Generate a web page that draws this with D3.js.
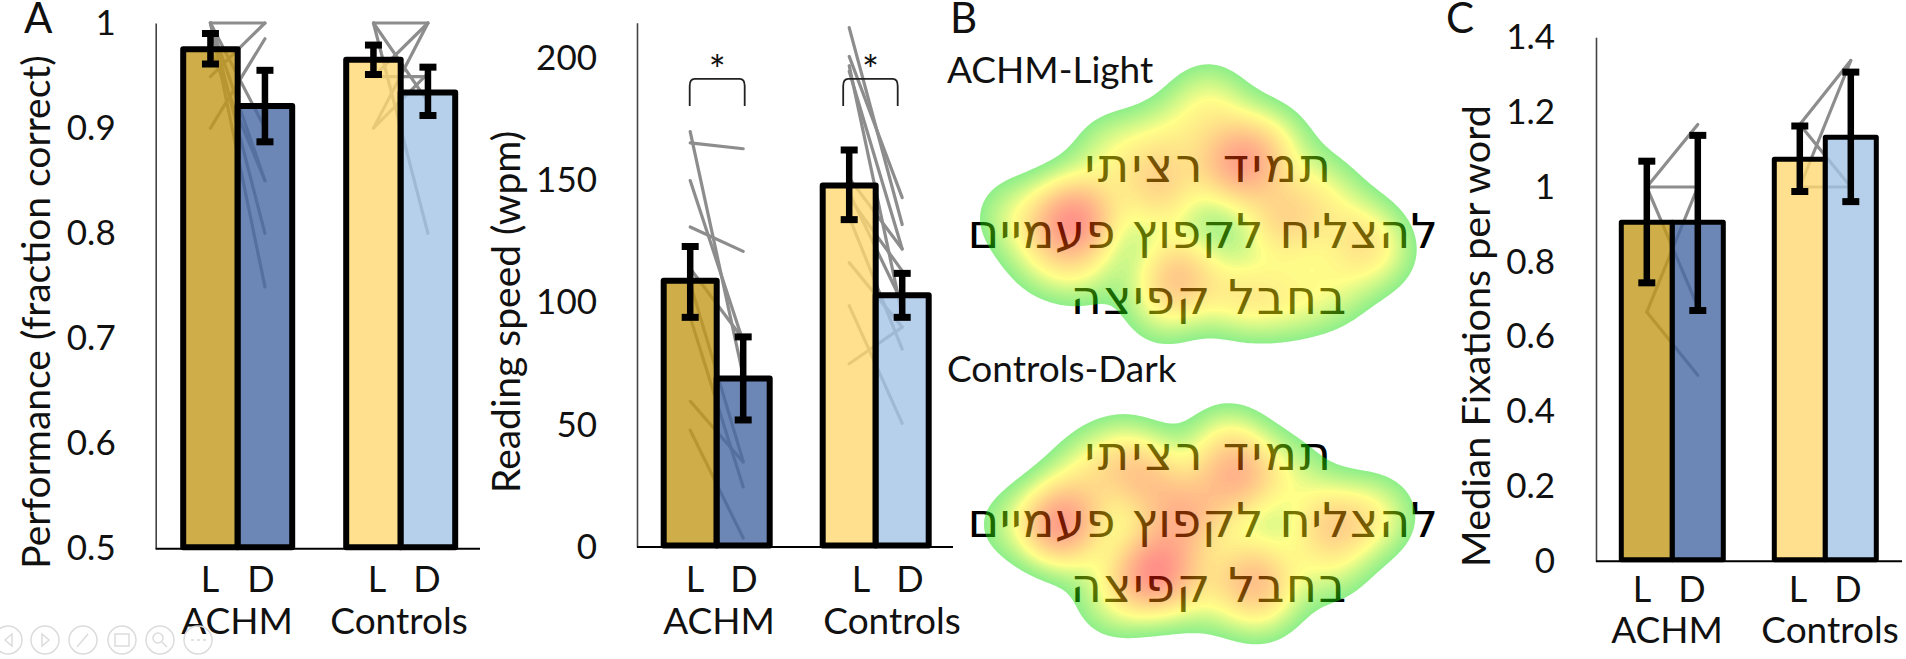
<!DOCTYPE html>
<html>
<head>
<meta charset="utf-8">
<script src="https://cdn.jsdelivr.net/npm/d3@7"></script>
<style>
html,body{margin:0;padding:0;background:#fff;overflow:hidden}
svg{display:block}
text{font-family:Lato,"Open Sans",sans-serif;fill:#111}
</style>
</head>
<body>
<svg id="chart" width="1906" height="659"></svg>
<script>
// ---------- data ----------
const groups = ["ACHM", "Controls"];
const conditions = ["L", "D"];

const perfMeans = [[0.975, 0.921], [0.965, 0.934]];
const perfLow   = [[0.961, 0.887], [0.951, 0.912]];
const perfHigh  = [[0.990, 0.955], [0.979, 0.958]];
const perfTicks = [0.5, 0.6, 0.7, 0.8, 0.9, 1];
const perfAchmPairs = [[1,1],[1,0.85],[1,0.80],[1,0.749],[0.949,1],[0.90,0.985],[1,0.90],[0.975,0.85]];
const perfCtrlPairs = [[1,1],[1,0.925],[1,0.80],[0.90,1],[0.90,0.952],[0.949,1],[0.949,0.949]];

const speedMeans = [[109, 69], [148, 103]];
const speedLow   = [[94, 52], [134, 94]];
const speedHigh  = [[123, 86], [162.5, 112]];
const speedTicks = [0, 50, 100, 150, 200];
const speedAchmPairs = [[170,70],[165.4,163],[150,84],[131,121],[114,85],[108,35],[94,24.6],[59.7,34.8],[47.8,3.7]];
const speedCtrlPairs = [[212.6,132],[200.8,143],[194.7,122],[197,95],[151,122],[145,100],[143,113],[135,81],[116.4,90],[98.8,50.6],[75,90]];
const speedSignificance = [191.6, 180.5];

const fixMeans = [[0.906, 0.906], [1.074, 1.133]];
const fixLow   = [[0.744, 0.67], [0.988, 0.961]];
const fixHigh  = [[1.069, 1.138], [1.163, 1.307]];
const fixTicks = [0, 0.2, 0.4, 0.6, 0.8, 1, 1.2, 1.4];
const fixAchmPairs = [[1,1.167],[1,1],[1,0.68],[0.666,1],[0.666,0.497]];
const fixCtrlPairs = [[1.167,1.338],[1,1.338],[1.167,1],[1,1]];

const barColors = [["#C39A1D", "#4769A2"], ["#FFD872", "#A4C4E7"]];

const hebrewLines = ["תמיד רציתי", "להצליח לקפוץ פעמיים", "בחבל קפיצה"];

// heat-map fixation blobs: x, y, weight
const heatLight = [
  [1073,217,0.95],[1237,163,0.8],[1177,272,0.6],[1158,190,0.5],[1282,222,0.5],
  [1207,100,0.33],[1360,235,0.36],[1010,214,0.25],[1110,150,0.28],[1165,140,0.28],
  [1240,295,0.38],[1270,140,0.28],[1320,190,0.28],[1380,255,0.2],[1160,310,0.22],
  [1040,258,0.2],[1080,270,0.22],[1330,290,0.25],[1285,300,0.25]
];
const heatDark = [
  [1060,523,0.95],[1153,570,0.95],[1237,477,0.62],[1143,477,0.5],[1185,515,0.62],
  [1252,573,0.58],[1327,523,0.5],[1120,450,0.22],[1225,440,0.3],[1290,470,0.2],
  [1375,515,0.35],[1000,523,0.15],[1110,600,0.25],[1260,605,0.25],[1330,570,0.2],
  [1200,595,0.18],[1085,470,0.25]
];

// ---------- drawing ----------
const svg = d3.select("#chart");
const lineGray = "#8d8d8d";

function panel(o) {
  const g = svg.append("g");
  const y = d3.scaleLinear().domain(o.domain).range([o.yBase, o.yTop]);
  const xg = d3.scalePoint().domain(groups).range(o.groupX);
  const xc = d3.scalePoint().domain(conditions).range([-o.barW / 2, o.barW / 2]);

  // paired subject lines under the translucent bars
  [o.achmPairs, o.ctrlPairs].forEach((pairs, i) => {
    g.append("g").selectAll("line").data(pairs).join("line")
      .attr("x1", xg(groups[i]) + xc("L"))
      .attr("x2", xg(groups[i]) + xc("D"))
      .attr("y1", d => y(d[0])).attr("y2", d => y(d[1]))
      .attr("stroke", lineGray).attr("stroke-width", 3.2).attr("stroke-linecap", "round");
  });

  // bars and error bars
  groups.forEach((gr, i) => conditions.forEach((c, j) => {
    const cx = xg(gr) + xc(c);
    g.append("rect")
      .attr("x", cx - o.barW / 2).attr("width", o.barW)
      .attr("y", y(o.means[i][j])).attr("height", o.yBase - 1.5 - y(o.means[i][j]))
      .attr("fill", barColors[i][j]).attr("fill-opacity", 0.8)
      .attr("stroke", "#000").attr("stroke-width", o.barStroke).attr("stroke-linejoin", "round");
  }));
  groups.forEach((gr, i) => conditions.forEach((c, j) => {
    const cx = xg(gr) + xc(c);
    const e = g.append("g").attr("stroke", "#000");
    e.append("line").attr("x1", cx).attr("x2", cx).attr("y1", y(o.high[i][j])).attr("y2", y(o.low[i][j])).attr("stroke-width", 6.5);
    [o.high[i][j], o.low[i][j]].forEach(v => {
      e.append("line").attr("x1", cx - 8.5).attr("x2", cx + 8.5).attr("y1", y(v)).attr("y2", y(v)).attr("stroke-width", 7);
    });
  }));

  // axes
  const axis = d3.axisLeft(y).tickValues(o.ticks).tickFormat(d => String(d))
    .tickSize(0).tickPadding(o.tickPad);
  const ag = g.append("g").attr("transform", `translate(${o.axisX},0)`).call(axis);
  ag.select(".domain").attr("stroke", "#444").attr("stroke-width", 1.6);
  ag.selectAll("text").style("font-size", "35px").style("font-family", "Lato").attr("fill", "#111");
  g.append("line").attr("x1", o.axisX).attr("x2", o.baseEnd).attr("y1", o.yBase).attr("y2", o.yBase)
    .attr("stroke", "#000").attr("stroke-width", 2);

  // category labels
  groups.forEach((gr, i) => {
    conditions.forEach((c, j) => {
      g.append("text").attr("x", o.condX[i][j]).attr("y", o.condY).attr("text-anchor", "middle")
        .style("font-size", "36px").text(c);
    });
    g.append("text").attr("x", o.groupLabelX[i]).attr("y", o.groupY).attr("text-anchor", "middle")
      .style("font-size", "37px").text(gr);
  });

  // y title
  g.append("text").attr("transform", `translate(${o.titleX},${o.titleY}) rotate(-90)`)
    .attr("text-anchor", "middle").style("font-size", o.titleFont + "px").text(o.title);

  return { g, y, xg, xc };
}

panel({
  means: perfMeans, low: perfLow, high: perfHigh, ticks: perfTicks, domain: [0.5, 1],
  achmPairs: perfAchmPairs, ctrlPairs: perfCtrlPairs,
  yBase: 548.7, yTop: 23, groupX: [237.7, 400.7], barW: 54.5, barStroke: 6,
  axisX: 155.7, tickPad: 40, baseEnd: 480, titleFont: 39,
  condX: [[210, 261], [377, 427]], condY: 592, groupLabelX: [237, 399], groupY: 634,
  title: "Performance (fraction correct)", titleX: 50, titleY: 312
});

const speed = panel({
  means: speedMeans, low: speedLow, high: speedHigh, ticks: speedTicks, domain: [0, 214.6],
  achmPairs: speedAchmPairs, ctrlPairs: speedCtrlPairs,
  yBase: 547, yTop: 22.7, groupX: [716.7, 875.7], barW: 53, barStroke: 6,
  axisX: 637, tickPad: 40, baseEnd: 953, titleFont: 39,
  condX: [[695, 744], [861, 910]], condY: 592, groupLabelX: [719, 892], groupY: 634,
  title: "Reading speed (wpm)", titleX: 520, titleY: 312
});

panel({
  means: fixMeans, low: fixLow, high: fixHigh, ticks: fixTicks, domain: [0, 1.4],
  achmPairs: fixAchmPairs, ctrlPairs: fixCtrlPairs,
  yBase: 561.3, yTop: 37.3, groupX: [1672.3, 1825.3], barW: 51, barStroke: 5,
  axisX: 1596, tickPad: 41, baseEnd: 1902, titleFont: 39.5,
  condX: [[1642, 1692], [1798, 1848]], condY: 602, groupLabelX: [1667, 1830], groupY: 643,
  title: "Median Fixations per word", titleX: 1490, titleY: 336
});

// significance brackets on the reading speed panel
const bracketOffset = [[-0.5, 1.5], [-6, -4.5]];
groups.forEach((gr, i) => {
  const x0 = speed.xg(gr) + speed.xc("L") + bracketOffset[i][0], x1 = speed.xg(gr) + speed.xc("D") + bracketOffset[i][1];
  const yt = speed.y(speedSignificance[0]), yb = speed.y(speedSignificance[1]);
  speed.g.append("path")
    .attr("d", `M${x0},${yb}L${x0},${yt + 7}Q${x0},${yt} ${x0 + 5},${yt}L${x1 - 5},${yt}Q${x1},${yt} ${x1},${yt + 7}L${x1},${yb}`)
    .attr("fill", "none").attr("stroke", "#222").attr("stroke-width", 1.8);
  speed.g.append("text").attr("x", (x0 + x1) / 2).attr("y", 85).attr("text-anchor", "middle")
    .style("font-size", "40px").text("*");
});

// panel letters and heat map captions
[["A", 24, 33], ["B", 950, 33], ["C", 1446, 33]].forEach(d =>
  svg.append("text").attr("x", d[1]).attr("y", d[2]).style("font-size", "42px").text(d[0]));
[["ACHM-Light", 947, 83], ["Controls-Dark", 947, 382]].forEach(d =>
  svg.append("text").attr("x", d[1]).attr("y", d[2]).style("font-size", "37px").text(d[0]));

// heat maps: Hebrew text first, translucent heat over it
const hebrewX = [1209, 1203, 1209];
const hebrewSpacing = [2.4, 0.4, 1.3];
function heat(blobs, baselines, box) {
  baselines.forEach((b, i) => {
    svg.append("text").attr("x", hebrewX[i]).attr("y", b).attr("text-anchor", "middle")
      .attr("direction", "rtl")
      .style("font-family", "'DejaVu Sans'").style("font-size", "48px").style("fill", "#000")
      .style("letter-spacing", hebrewSpacing[i] + "px")
      .text(hebrewLines[i]);
  });
  const step = 3, sigma = 30;
  const n = Math.ceil(box[2] / step), m = Math.ceil(box[3] / step);
  const values = new Float64Array(n * m);
  for (let j = 0; j < m; j++) for (let i = 0; i < n; i++) {
    const px = box[0] + i * step, py = box[1] + j * step;
    let v = 0;
    blobs.forEach(b => {
      const dx = px - b[0], dy = py - b[1];
      v += b[2] * Math.exp(-(dx * dx + dy * dy) / (2 * sigma * sigma));
    });
    values[j * n + i] = v;
  }
  const color = d3.scaleLinear()
    .domain([0.16, 0.3, 0.42, 0.75, 1.15])
    .range(["#16de00", "#90f000", "#ffff00", "#ff8500", "#ff0000"]);
  const thresholds = d3.range(0.16, 1.4, 0.02);
  const contours = d3.contours().size([n, m]).smooth(true).thresholds(thresholds)(values);
  const path = d3.geoPath(d3.geoTransform({
    point(x, y) { this.stream.point(box[0] + x * step, box[1] + y * step); }
  }));
  svg.append("g").attr("opacity", 0.46).selectAll("path").data(contours).join("path")
    .attr("d", path).attr("fill", d => color(d.value));
}
heat(heatLight, [182, 248, 314], [930, 40, 500, 320]);
heat(heatDark, [470, 537, 602], [930, 390, 500, 260]);

// faint slide-show toolbar
const toolbarX = [8, 45, 83, 122, 160, 198];
const tb = svg.append("g").attr("fill", "none").attr("stroke", "#dcdcdc").attr("stroke-width", 1.5);
toolbarX.forEach(x => tb.append("circle").attr("cx", x).attr("cy", 640).attr("r", 14));
tb.append("path").attr("d", "M12,634L5,640L12,646Z");
tb.append("path").attr("d", "M42,634L49,640L42,646Z");
tb.append("path").attr("d", "M77,647L88,634");
tb.append("rect").attr("x", 115).attr("y", 634).attr("width", 14).attr("height", 12);
tb.append("circle").attr("cx", 158).attr("cy", 638).attr("r", 5);
tb.append("path").attr("d", "M162,642L167,647");
tb.append("path").attr("d", "M191,640h3M197,640h3M203,640h3");
</script>
</body>
</html>
